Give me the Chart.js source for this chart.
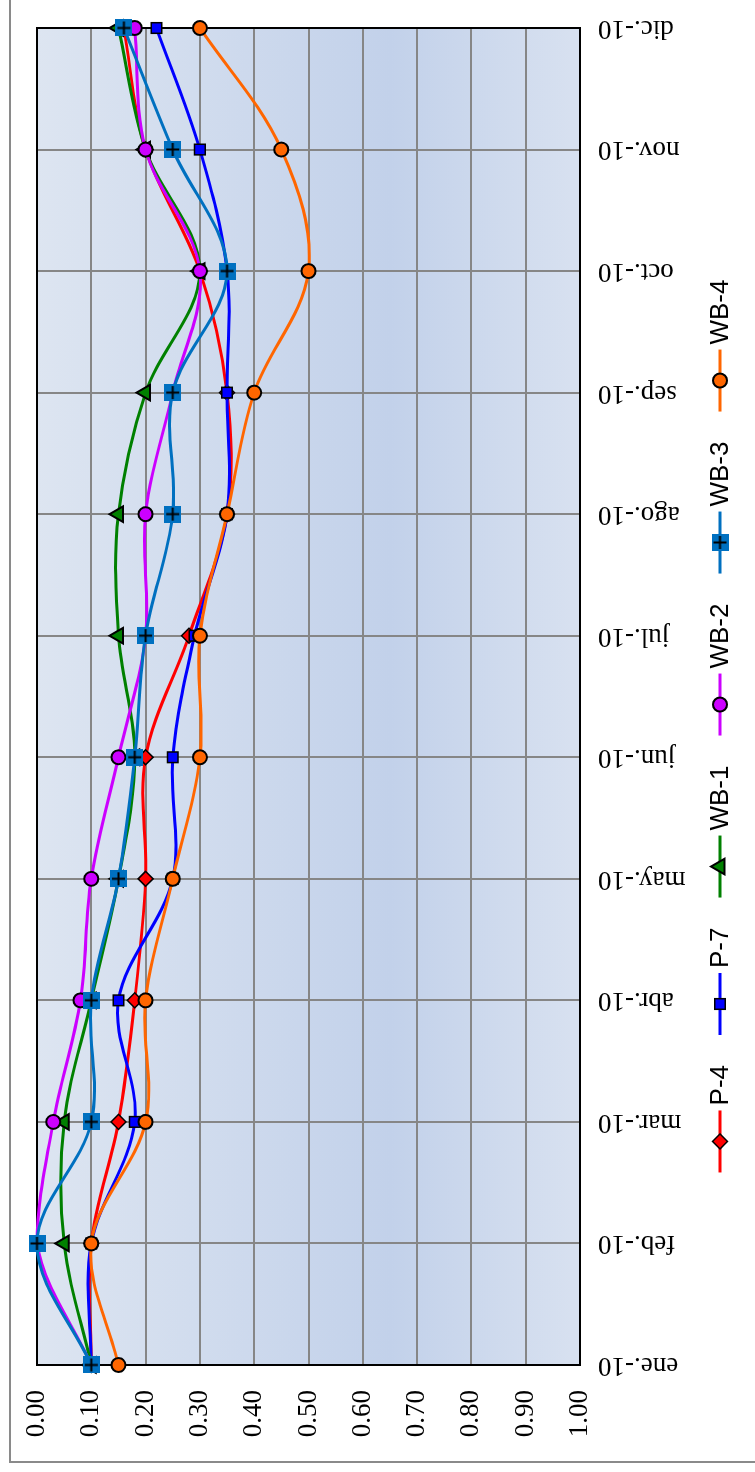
<!DOCTYPE html>
<html>
<head>
<meta charset="utf-8">
<script src="https://cdn.jsdelivr.net/npm/chart.js@4.4.1/dist/chart.umd.min.js"></script>
<style>
html,body{margin:0;padding:0;background:#fff;width:755px;height:1472px;overflow:hidden}
/* the chart is drawn landscape, then turned a quarter turn to the left */
#giro{position:absolute;left:0;top:0;width:1472px;height:755px;transform-origin:0 0;transform:translateY(1472px) rotate(-90deg)}
#marco{position:absolute;left:9px;top:9px;width:1500px;height:800px;border:2px solid #8a8a8a}
#grafico{position:absolute;left:0;top:0}
</style>
</head>
<body>
<div id="giro">
  <div id="marco"></div>
  <canvas id="grafico" width="1472" height="755"></canvas>
</div>
<script>
let meses=["ene.-10","feb.-10","mar.-10","abr.-10","may.-10","jun.-10","jul.-10","ago.-10","sep.-10","oct.-10","nov.-10","dic.-10"];

let p4 =[0.10,0.10,0.15,0.18,0.20,0.20,0.28,0.35,0.35,0.30,0.20,0.16];
let p7 =[0.10,0.10,0.18,0.15,0.25,0.25,0.29,0.35,0.35,0.35,0.30,0.22];
let wb1=[0.10,0.05,0.05,0.10,0.15,0.18,0.15,0.15,0.20,0.30,0.20,0.15];
let wb2=[0.10,0.00,0.03,0.08,0.10,0.15,0.20,0.20,0.25,0.30,0.20,0.18];
let wb3=[0.10,0.00,0.10,0.10,0.15,0.18,0.20,0.25,0.25,0.35,0.25,0.16];
let wb4=[0.15,0.10,0.20,0.20,0.25,0.30,0.30,0.35,0.40,0.50,0.45,0.30];

let valoresY=[0,0.1,0.2,0.3,0.4,0.5,0.6,0.7,0.8,0.9,1.0];
let etiquetasY=["0.00","0.10","0.20","0.30","0.40","0.50","0.60","0.70","0.80","0.90","1.00"];

// marker of WB-3: blue square with a black plus
function marcaWB3(){
  let cv=document.createElement("canvas");
  cv.width=17; cv.height=17;
  let g=cv.getContext("2d");
  g.fillStyle="#0070c0";
  g.fillRect(0,0,17,17);
  g.strokeStyle="#000"; g.lineWidth=2;
  g.beginPath();
  g.moveTo(8.5,2); g.lineTo(8.5,15);
  g.moveTo(2,8.5); g.lineTo(15,8.5);
  g.stroke();
  return cv;
}

function serie(nombre,datos,color,estilo,radio,borde,orden){
  return {
    label:nombre, data:datos,
    borderColor:color, backgroundColor:color, borderWidth:3,
    tension:0.35, clip:false,
    pointStyle:estilo, pointRadius:radio,
    pointBackgroundColor:color, pointBorderColor:"#000", pointBorderWidth:borde,
    order:orden
  };
}

const fondo={
  id:"fondo",
  beforeDraw(c){
    let a=c.chartArea, ctx=c.ctx;
    let g=ctx.createLinearGradient(0,a.top,0,a.bottom);
    g.addColorStop(0,"#dde5f1");
    g.addColorStop(0.65,"#c2d1ea");
    g.addColorStop(1,"#d8e1f0");
    ctx.save();
    ctx.fillStyle=g;
    ctx.fillRect(a.left,a.top,a.right-a.left,a.bottom-a.top);
    ctx.restore();
  },
  beforeDatasetsDraw(c){
    let a=c.chartArea, ctx=c.ctx;
    ctx.save();
    ctx.strokeStyle="#000"; ctx.lineWidth=2;
    ctx.strokeRect(a.left,a.top,a.right-a.left,a.bottom-a.top);
    ctx.restore();
  }
};

const leyenda={
  id:"leyenda",
  afterDraw(c){
    let ctx=c.ctx;
    ctx.save();
    ctx.font='26px "Liberation Sans", Arial, sans-serif';
    let items=c.data.datasets;
    let anchos=items.map(d=>62+5+ctx.measureText(d.label).width);
    let total=anchos.reduce((s,v)=>s+v,0)+30*(items.length-1);
    let x=746-total/2, y=720;
    items.forEach((d,i)=>{
      ctx.strokeStyle=d.borderColor; ctx.lineWidth=3;
      ctx.beginPath(); ctx.moveTo(x,y); ctx.lineTo(x+62,y); ctx.stroke();
      ctx.fillStyle=d.pointBackgroundColor;
      ctx.strokeStyle=d.pointBorderColor;
      ctx.lineWidth=d.pointBorderWidth;
      Chart.helpers.drawPoint(ctx,{pointStyle:d.pointStyle,radius:d.pointRadius,borderWidth:d.pointBorderWidth,rotation:0},x+31,y);
      ctx.fillStyle="#000"; ctx.textAlign="left"; ctx.textBaseline="middle";
      ctx.fillText(d.label,x+67,y+1);
      x+=anchos[i]+30;
    });
    ctx.restore();
  }
};

let rejilla={color:"#868686",lineWidth:2,drawTicks:false};

new Chart(document.getElementById("grafico"),{
  type:"line",
  data:{
    labels:meses,
    datasets:[
      serie("P-4",p4,"#ff0000","rectRot",7.5,1.5,6),
      serie("P-7",p7,"#0000ff","rect",7.5,1.5,5),
      serie("WB-1",wb1,"#008000","triangle",9,2,4),
      serie("WB-2",wb2,"#cc00ff","circle",7,2,3),
      serie("WB-3",wb3,"#0070c0",marcaWB3(),8,0,2),
      serie("WB-4",wb4,"#ff6600","circle",7,2,1)
    ]
  },
  options:{
    responsive:false, animation:false, devicePixelRatio:1,
    layout:{padding:{top:37,right:28,left:0,bottom:0}},
    plugins:{legend:{display:false},tooltip:{enabled:false}},
    scales:{
      x:{
        grid:rejilla, border:{display:false},
        ticks:{minRotation:90,maxRotation:90,padding:18,color:"#000",font:{family:'"Liberation Serif", "Times New Roman", serif',size:27}},
        afterFit(s){s.height=175; s.paddingLeft=0; s.paddingRight=0;}
      },
      y:{
        reverse:true, min:0, max:1,
        grid:rejilla, border:{display:false},
        afterBuildTicks(s){s.ticks=valoresY.map(v=>({value:v}));},
        ticks:{padding:25,color:"#000",font:{family:'"Liberation Serif", "Times New Roman", serif',size:27},
          callback:(v,i)=>etiquetasY[i]},
        afterFit(s){s.width=107; s.paddingTop=0; s.paddingBottom=0;}
      }
    }
  },
  plugins:[fondo,leyenda]
});
</script>
</body>
</html>
